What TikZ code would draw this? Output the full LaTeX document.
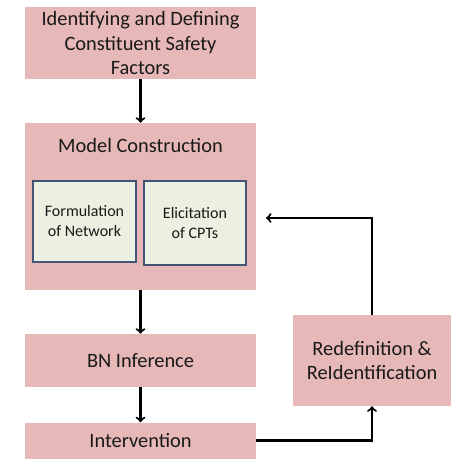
\documentclass[tikz,border=0pt]{standalone}
\usepackage{fontspec}
\setmainfont{Carlito}
\definecolor{boxpink}{RGB}{230,184,183}
\definecolor{innerfill}{RGB}{235,240,224}
\definecolor{innerline}{RGB}{68,84,118}
\definecolor{txt}{RGB}{25,25,25}
\begin{document}
\begin{tikzpicture}[x=0.75pt, y=-0.75pt,
  stage/.style={fill=boxpink, text=txt, align=center, inner sep=0pt,
    font=\fontsize{15.3}{18.4}\selectfont},
  sub/.style={fill=innerfill, draw=innerline, line width=1.5pt, text=txt,
    align=center, inner sep=0pt, font=\fontsize{12}{15}\selectfont},
  flow/.style={line width=1.6pt, ->}]

\useasboundingbox (0,0) rectangle (474,474);

\node[stage, minimum width=173.25pt, minimum height=54pt] (ident) at (140.5,43)
  {Identifying and Defining\\Constituent Safety\\Factors};

\node[stage, minimum width=173.25pt, minimum height=125.25pt] (model) at (140.5,206.5) {};
\node[text=txt, font=\fontsize{15.3}{18.4}\selectfont] (modeltitle) at (140.5,145) {Model Construction};

\node[sub, minimum width=77.25pt, minimum height=60.75pt] (form) at (84.5,221.5)
  {Formulation\\of Network};
\node[sub, minimum width=76.5pt, minimum height=63pt] (elic) at (195,223)
  {Elicitation\\of CPTs};

\node[stage, minimum width=173.25pt, minimum height=39.75pt] (bn) at (140.5,360.5) {BN Inference};
\node[stage, minimum width=173.25pt, minimum height=27pt] (interv) at (140.5,440.5) {Intervention};

\node[stage, minimum width=118.5pt, minimum height=68.25pt] (redef) at (372,360.5)
  {Redefinition \&\\ReIdentification};

\coordinate (back) at (266,218);

% main flow
\draw[flow] (ident) -- (model);
\draw[flow] (model) -- (bn);
\draw[flow] (bn) -- (interv);

% feedback loop
\draw[flow] (interv.east) -| (redef.south);
\draw[flow] (redef.north) |- (back);

\end{tikzpicture}
\end{document}
